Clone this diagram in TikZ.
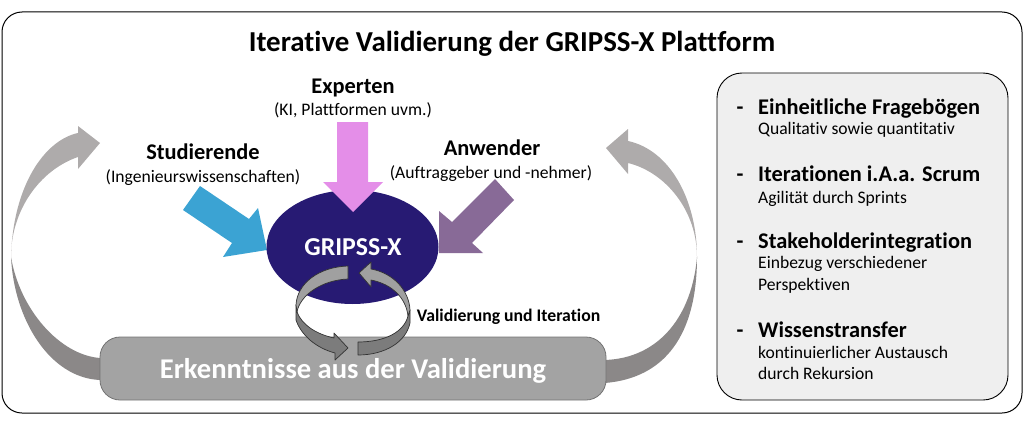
\documentclass[tikz,border=0pt]{standalone}
\usepackage{fontspec}
\setmainfont[Ligatures=NoCommon]{Carlito}
\usepackage{xcolor}
\usetikzlibrary{positioning, shapes.geometric}

\definecolor{ovalblue}{HTML}{271A73}
\definecolor{arrowpink}{HTML}{E48EE8}
\definecolor{arrowblue}{HTML}{3BA3D3}
\definecolor{arrowpurple}{HTML}{886A97}
\definecolor{panelgray}{HTML}{EFEFEF}
\definecolor{resultgray}{HTML}{A3A3A3}
\definecolor{returntop}{HTML}{AEABAB}
\definecolor{returnbottom}{HTML}{8B8888}
\definecolor{cyclelight}{HTML}{A0A0A0}
\definecolor{cycledark}{HTML}{7C7C7C}

\tikzset{
  headtext/.style={font=\fontsize{22.4}{26}\selectfont\bfseries, inner sep=0pt, anchor=base},
  subtext/.style={font=\fontsize{17.6}{21}\selectfont, inner sep=0pt, anchor=base},
  listhead/.style={font=\fontsize{22.4}{26}\selectfont\bfseries, inner sep=0pt, anchor=base west},
  listsub/.style={font=\fontsize{17.6}{21}\selectfont, inner sep=0pt, anchor=base west},
  cycleband/.style={draw=black!80, line width=0.7pt, line join=round}
}

\begin{document}
\begin{tikzpicture}[x=1pt, y=-1pt]
\useasboundingbox (0, 0) rectangle (1024, 425);

% frame and list panel
\draw[line width=1pt, rounded corners=20pt] (2, 12) rectangle (1022, 413);
\draw[line width=0.9pt, fill=panelgray, rounded corners=25pt] (717, 73) rectangle (1008, 400);

\node[font=\fontsize{28.9}{34}\selectfont\bfseries, inner sep=0pt] (title) at (512, 43.5){Iterative Validierung der GRIPSS-X Plattform};

% big return arrows
\fill[returnbottom] (100, 380) .. controls (50, 378) and (14, 320) .. (11, 257)
  .. controls (20, 310) and (60, 355) .. (100, 358) -- cycle;
\fill[returntop] (11, 257) .. controls (13, 185) and (45, 140) .. (78, 133)
  -- (78, 126) -- (100, 143) -- (78, 169) -- (78, 157)
  .. controls (40, 170) and (11, 210) .. (11, 257) -- cycle;
\fill[returnbottom] (605, 383) .. controls (665, 378) and (697, 335) .. (697, 257)
  .. controls (692, 315) and (660, 358) .. (605, 360) -- cycle;
\fill[returntop] (697, 257) .. controls (697, 200) and (670, 150) .. (628, 141)
  -- (628, 129) -- (606, 148) -- (628, 174) -- (628, 163)
  .. controls (665, 172) and (697, 210) .. (697, 257) -- cycle;

% input arrows
\fill[arrowblue] (200, 186) -- (183, 210) -- (232, 243) -- (223, 257) -- (267, 250) -- (258, 208) -- (249, 219) -- cycle;
\fill[arrowpurple] (495, 179) -- (514, 200) -- (472, 243) -- (483, 253) -- (439, 253) -- (439, 211) -- (452, 222) -- cycle;

\node[ellipse, fill=ovalblue, minimum width=172pt, minimum height=114pt, inner sep=0pt] (platform) at (352.5, 247){};
\node[font=\fontsize{25.8}{30}\selectfont\bfseries, text=white, inner sep=0pt] (platformtext) at (353, 247){GRIPSS-X};

\fill[arrowpink] (337, 122) -- (368, 122) -- (368, 182) -- (383, 182) -- (353, 212) -- (323, 182) -- (337, 182) -- cycle;

% result box
\node[draw=black!55, line width=0.8pt, fill=resultgray, rounded corners=20pt, minimum width=506pt, minimum height=63pt, inner sep=0pt] (result) at (353, 368.5){};
\node[font=\fontsize{28.6}{34}\selectfont\bfseries, text=white, inner sep=0pt] (resulttext) at (353, 370.5){Erkenntnisse aus der Validierung};

% cycle arrows
\draw[cycleband, fill=cycledark] (296, 305) -- (296, 320) .. controls (301, 335) and (316, 348) .. (335, 353)
  -- (335, 360) -- (348, 348) -- (334, 333) -- (334, 338)
  .. controls (316, 334) and (302, 325) .. (297, 312) -- cycle;
\draw[cycleband, fill=cyclelight] (348, 266) .. controls (318, 267) and (297, 284) .. (296, 305)
  -- (297, 312) .. controls (300, 295) and (322, 280) .. (348, 279) -- cycle;
\draw[cycleband, fill=cycledark] (410, 310) -- (410, 323) .. controls (406, 342) and (385, 355) .. (358, 355)
  -- (358, 342) .. controls (385, 342) and (404, 332) .. (408, 316) -- cycle;
\draw[cycleband, fill=cyclelight] (410, 310) .. controls (409, 290) and (393, 273) .. (371, 269)
  -- (371, 262) -- (359, 273) -- (371, 287) -- (371, 280)
  .. controls (392, 284) and (406, 298) .. (408, 316) -- cycle;

\node[font=\fontsize{17.7}{21}\selectfont\bfseries, inner sep=0pt] (cyclelabel) at (508.5, 316.5){Validierung und Iteration};

% stakeholder labels
\node[headtext] (experten) at (353, 94){Experten};
\node[subtext] (expertensub) at (353, 116){(KI, Plattformen uvm.)};
\node[headtext] (studierende) at (203, 159){Studierende};
\node[subtext] (studierendesub) at (203, 182){(Ingenieurswissenschaften)};
\node[headtext] (anwender) at (492, 155){Anwender};
\node[subtext] (anwendersub) at (491, 178){(Auftraggeber und -nehmer)};

% list panel
\foreach \ypos/\itemname/\itemtext in {114/a/Einheitliche Fragebögen, 181/b/Iterationen i.A.a. Scrum, 248/c/Stakeholderintegration, 337/d/Wissenstransfer}{
  \node[listhead] (item\itemname) at (758, \ypos){\itemtext};
  \node[listhead] (dash\itemname) at (736.5, \ypos){-};
}
\node[listsub] (suba) at (758, 135){Qualitativ sowie quantitativ};
\node[listsub] (subb) at (758, 203){Agilität durch Sprints};
\node[listsub] (subc) at (758, 268){Einbezug verschiedener};
\node[listsub] (subcc) at (758, 290){Perspektiven};
\node[listsub] (subd) at (758, 358){kontinuierlicher Austausch};
\node[listsub] (subdd) at (758, 379){durch Rekursion};
\end{tikzpicture}
\end{document}
